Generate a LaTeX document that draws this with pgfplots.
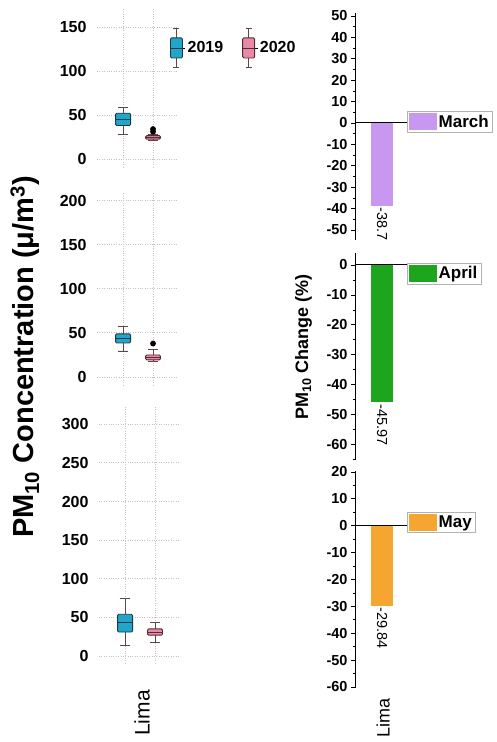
\documentclass[border=0pt]{standalone}
\usepackage{pgfplots}
\pgfplotsset{compat=1.18}
\usepgfplotslibrary{statistics}
\usepackage{fontspec}
\setmainfont{Liberation Sans}

\definecolor{box19}{RGB}{33,165,200}
\definecolor{edge19}{RGB}{30,58,70}
\definecolor{box20}{RGB}{230,138,165}
\definecolor{edge20}{RGB}{90,40,55}
\definecolor{whisk}{RGB}{95,70,70}
\definecolor{gridc}{RGB}{195,195,195}
\definecolor{marchc}{RGB}{200,152,240}
\definecolor{aprilc}{RGB}{30,165,30}
\definecolor{mayc}{RGB}{245,166,48}

\newcommand{\fs}[1]{\fontsize{#1}{#1}\selectfont}

\pgfplotsset{
  /pgf/number format/assume math mode=true,
  % concentration panels (box plots)
  conc/.style={
    scale only axis, width=80bp, anchor=south west,
    xmin=0.13, xmax=2.8,
    xtick={1,2}, xticklabels={},
    axis line style={draw=none},
    major tick length=0pt,
    xmajorgrids, ymajorgrids,
    major grid style={gridc, dotted, line width=0.9bp},
    ymin=-9.1,
    yticklabel style={font=\bfseries\fs{16bp}, xshift=-7bp},
    clip=false,
  },
  b19/.style={
    forget plot, solid, fill=box19, draw=edge19, line width=0.9bp,
    boxplot/draw direction=y,
    boxplot/box extend=0.5, boxplot/whisker extend=0.33,
    boxplot/every whisker/.style={draw=whisk},
    boxplot/every box/.style={rounded corners=1.2bp},
    mark=*, mark size=2.2bp, mark options={fill=black, draw=black},
  },
  b20/.style={
    forget plot, solid, fill=box20, draw=edge20, line width=0.9bp,
    boxplot/draw direction=y,
    boxplot/box extend=0.5, boxplot/whisker extend=0.33,
    boxplot/every whisker/.style={draw=whisk},
    boxplot/every box/.style={rounded corners=1.2bp},
    mark=*, mark size=2.4bp, mark options={fill=black, draw=black},
  },
  % legend glyph of a box plot
  boxglyph/.style 2 args={legend image code/.code={
    \path (0bp,0bp) -- (15bp,0bp);
    \draw[whisk, line width=0.9bp] (6bp,-19bp) -- (6bp,19bp) (3bp,-19bp) -- (9bp,-19bp) (3bp,19bp) -- (9bp,19bp);
    \filldraw[fill=#1, draw=#2, line width=0.9bp, rounded corners=1.2bp] (0bp,-10bp) rectangle (12bp,10bp);
    \draw[#2, line width=0.9bp] (0bp,0bp) -- (12bp,0bp);}},
  % percentage change panels (bars)
  chg/.style={
    scale only axis, width=52bp, anchor=south west,
    xmin=0, xmax=1,
    axis y line*=left, axis x line*=bottom,
    x axis line style={draw=none},
    xtick=\empty,
    ytick distance=10, minor y tick num=1,
    tick align=outside, major tick length=4bp, minor tick length=2.5bp,
    y axis line style={line width=0.8bp},
    every tick/.style={black, line width=0.6bp},
    yticklabel style={font=\bfseries\fs{14.5bp}},
    extra y ticks={0}, extra y tick labels={},
    extra y tick style={grid=major, major grid style={black, line width=1bp}},
    axis on top,
    legend style={draw=gray!60, fill=white, inner sep=1.5bp, font=\bfseries\fs{17bp}},
    legend cell align=left,
  },
  chgbar/.style={
    ybar, bar width=22bp, draw=none, fill=#1,
    nodes near coords, point meta=explicit symbolic,
    nodes near coords style={rotate=-90, anchor=west, font=\fs{14.5bp}, inner sep=1.5bp, black},
    legend image code/.code={\fill[#1] (0bp,-8.5bp) rectangle (28bp,8.5bp);},
  },
}

\begin{document}
\begin{tikzpicture}

% ---------- March concentrations ----------
\begin{axis}[conc, at={(97bp,575bp)}, height=160bp, ymax=172.7, ytick={0,50,100,150},
  legend style={at={(0.91,0.744)}, anchor=west, draw=none, fill=none,
    legend columns=2, font=\bfseries\fs{16bp}, inner sep=0pt,
    /tikz/every even column/.append style={column sep=17bp}},
  legend cell align=left]
\addplot[b19, boxplot prepared={draw position=1, lower whisker=28, lower quartile=38,
  median=45, upper quartile=52, upper whisker=59}] coordinates {};
\addplot[b20, boxplot prepared={draw position=2, lower whisker=21, lower quartile=22.5,
  median=24.5, upper quartile=26.5, upper whisker=28}] table[row sep=\\, y index=0] {data\\31\\34\\};
\addlegendimage{boxglyph={box19}{edge19}}
\addlegendentry{2019}
\addlegendimage{boxglyph={box20}{edge20}}
\addlegendentry{2020}
\end{axis}

% ---------- April concentrations ----------
\begin{axis}[conc, at={(97bp,357bp)}, height=193bp, ymax=210, ytick={0,50,100,150,200},
  ylabel={\bfseries PM\textsubscript{10} Concentration (μ/m\textsuperscript{3})},
  ylabel style={font=\fs{29bp}, at={(axis description cs:-0.9,0.145)}, anchor=center}]
\addplot[b19, boxplot prepared={draw position=1, lower whisker=29.5, lower quartile=38.6,
  median=44, upper quartile=49, upper whisker=57}] coordinates {};
\addplot[b20, boxplot prepared={draw position=2, lower whisker=18, lower quartile=19.5,
  median=22, upper quartile=25, upper whisker=31}] table[row sep=\\, y index=0] {data\\38\\};
\end{axis}

% ---------- May concentrations ----------
\begin{axis}[conc, at={(99bp,79bp)}, height=258bp, ymax=325, ytick={0,50,100,150,200,250,300},
  xlabel={Lima},
  xlabel style={font=\fs{21bp}, rotate=90, anchor=east, inner sep=0pt,
    at={(axis description cs:0.54,-0.105)}}]
\addplot[b19, boxplot prepared={draw position=1, lower whisker=14, lower quartile=31,
  median=43, upper quartile=54, upper whisker=75}] coordinates {};
\addplot[b20, boxplot prepared={draw position=2, lower whisker=17, lower quartile=27,
  median=31, upper quartile=35, upper whisker=43}] coordinates {};
\end{axis}

% ---------- March change ----------
\begin{axis}[chg, at={(355bp,502bp)}, height=227bp, ymin=-54.7, ymax=51.4,
  legend style={at={(1,0.52)}, anchor=west}]
\addplot[chgbar=marchc] coordinates {(0.52,-38.7) [-38.7]};
\addlegendentry{March}
\end{axis}

% ---------- April change ----------
\begin{axis}[chg, at={(355bp,282bp)}, height=207bp, ymin=-65.2, ymax=4,
  legend style={at={(1,0.952)}, anchor=north west},
  ylabel={\bfseries PM\textsubscript{10} Change (\%)},
  ylabel style={font=\fs{18bp}, at={(axis description cs:-0.99,0.545)}, anchor=center}]
\addplot[chgbar=aprilc] coordinates {(0.52,-45.97) [-45.97]};
\addlegendentry{April}
\end{axis}

% ---------- May change ----------
\begin{axis}[chg, at={(355bp,54bp)}, height=217bp, ymin=-60.4, ymax=20.3,
  legend style={at={(1,0.763)}, anchor=west},
  xlabel={Lima},
  xlabel style={font=\fs{18bp}, rotate=90, anchor=east, inner sep=0pt,
    at={(axis description cs:0.54,-0.046)}}]
\addplot[chgbar=mayc] coordinates {(0.52,-29.84) [-29.84]};
\addlegendentry{May}
\end{axis}

\pgfresetboundingbox
\path[use as bounding box] (0bp,0bp) rectangle (497bp,742bp);
\end{tikzpicture}
\end{document}
